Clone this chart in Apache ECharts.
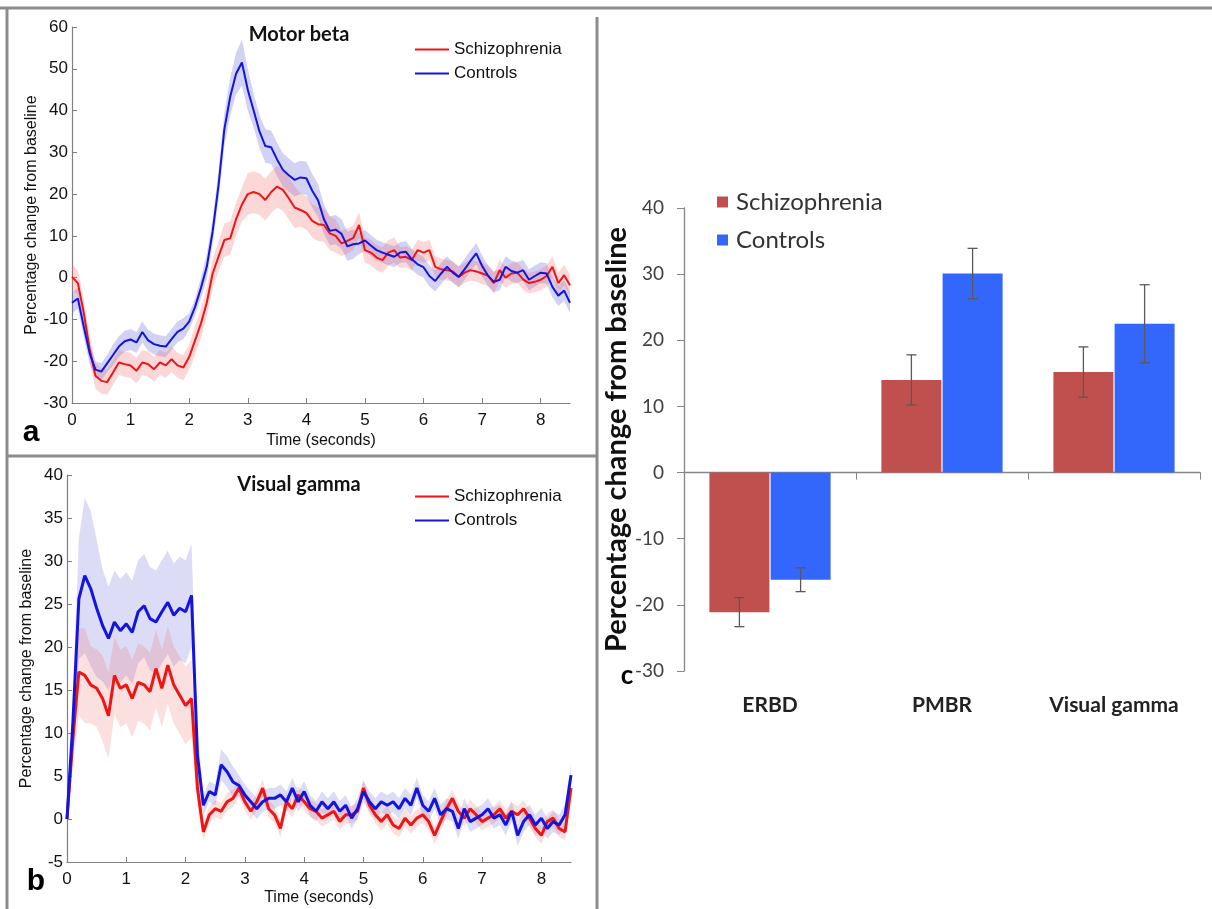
<!DOCTYPE html>
<html><head><meta charset="utf-8">
<script src="https://cdn.jsdelivr.net/npm/echarts@6/dist/echarts.min.js"></script>
<style>html,body{margin:0;padding:0;background:#fff}#c{width:1212px;height:909px}</style>
</head><body><div id="c"></div>
<script>
// ---- data ----
const timeStep = 0.1;            // sampling step (s) of the traces
const xTicks = [0, 1, 2, 3, 4, 5, 6, 7, 8];

// Panel a: Motor beta (% change), t = 0 .. 8.5 s
const motorCtrl = [
  -6, -5, -11.7, -18, -22, -22.5, -20.5, -18.5, -16.5, -15.2,
  -14.8, -15.5, -13, -15, -15.9, -16.3, -16.5, -14.7, -13, -12.2,
  -10.5, -7, -2.5, 2.6, 11, 22, 35.5, 43.3, 48.8, 51.5,
  45, 40, 35, 31.5, 31.2, 28.3, 25.8, 24.5, 23.4, 24,
  23.8, 20.8, 18.5, 14, 11.2, 11.5, 10.5, 7.5, 8, 8.2,
  8.9, 7.7, 6.6, 6, 5.5, 5, 6, 6.2, 4.4, 3.2,
  2.5, 0.4, -0.8, 1, 2.6, 1.2, 0.2, 2, 4, 5.8,
  2.8, 0.5, -1, -0.5, 2.6, 1.6, 1.2, 1.8, -0.5, 0.4,
  1.2, 1, -2.2, -4.3, -3.1, -6];
const motorSchiz = [
  0.2, -1.3, -8.3, -17, -23.5, -24.7, -25, -22.7, -20.3, -20.7,
  -21, -22.3, -20.3, -20.7, -21.9, -20.3, -21, -19.5, -21, -21.5,
  -19, -15, -11, -6, 1, 5, 9, 9.4, 14, 17.5,
  20, 20.5, 20, 18.6, 20.5, 21.8, 21, 19, 16.8, 16.2,
  15.5, 13.6, 12.8, 12.6, 10.6, 10, 8.2, 8.8, 9.5, 12.6,
  6.6, 6, 4.8, 4.2, 6, 6.6, 4.8, 5, 4.2, 6.6,
  6, 6.6, 2.6, 2, 1.8, 1.5, 0.2, 1.2, 1.8, 1.5,
  1, 0.5, -1.3, 1.8, 0, 1, 1.2, -0.4, -1.3, -1,
  -0.5, 0.4, 2.6, -1.3, 0.6, -1.8];
const motorCtrlSem = [
  2.5, 2.5, 2.5, 2.5, 2, 2, 2, 2.5, 2.5, 2.5,
  2.5, 2.5, 2.5, 2.5, 2.5, 2.5, 2.5, 2.5, 2.5, 2.5,
  2, 2, 2.5, 3, 3, 3.5, 4, 4.5, 5, 5.5,
  5, 4, 4, 4, 4, 4, 4, 4, 4, 4,
  4, 4, 4, 3.5, 3.5, 3.5, 3.5, 3.5, 3.5, 2.5,
  2.5, 2.5, 2.5, 2.5, 2.5, 2.5, 2.5, 2.5, 2.5, 2.5,
  2.5, 2.5, 2.5, 2.5, 2.5, 2.5, 2.5, 2.5, 2.5, 2.5,
  2.5, 2.5, 2.5, 2.5, 2.5, 2.5, 2.5, 2.5, 2.5, 2.5,
  2.5, 2.5, 2.5, 2.5, 2.5, 2.5];
const motorSchizSem = [
  3, 3, 3, 3, 3, 3, 3, 3, 3, 3,
  3, 3, 3, 3, 3, 3, 3, 3, 3, 3,
  3, 3.5, 3.5, 3.5, 3.5, 3.5, 4, 4, 4, 4,
  5, 5, 5, 5, 5, 5, 5, 5, 5, 4,
  4, 4, 4, 4, 4, 4, 3, 3, 3, 3,
  3, 3, 3, 3, 3, 3, 2.5, 2.5, 2.5, 2.5,
  2.5, 2.5, 2.5, 2.5, 2.5, 2.5, 2.5, 2.5, 2.5, 2.5,
  2.5, 2.5, 2.5, 2.5, 2.5, 2.5, 2.5, 2.5, 2.5, 2.5,
  2.5, 2.5, 2.5, 2.5, 2.5, 2.5];

// Panel b: Visual gamma (% change), t = 0 .. 8.5 s
const gammaCtrl = [
  0, 11.3, 25.6, 28.3, 26.8, 24.5, 22.5, 21, 22.9, 21.9,
  22.7, 21.7, 24.1, 24.8, 23.3, 22.9, 24.1, 25.2, 23.7, 24.5,
  24.1, 26, 7.4, 1.6, 3.2, 2.8, 6.3, 5.5, 4.3, 3.9,
  2.8, 2, 1.2, 2, 2.4, 2.4, 2.8, 2, 3.6, 2,
  3.2, 1.6, 0.9, 2, 1.2, 2, 0.9, 1.6, 0.1, 1.2,
  3.2, 2, 1.2, 2, 1.6, 2, 1.2, 2.4, 1.6, 3.6,
  1.6, 0.9, 2.4, 0.5, 1.2, 0.9, -1.1, 1.2, -0.3, 0.1,
  0.5, 1.2, 0.1, 0.5, -0.7, 0.9, -1.9, -0.3, 0.5, -0.7,
  0.1, -1.1, -0.3, -0.7, 0.5, 5.1];
const gammaSchiz = [
  0, 9.4, 17.1, 16.7, 15.6, 15.2, 14, 12, 16.7, 15.2,
  15.6, 14, 15.9, 15.6, 14.8, 17.5, 15.2, 17.9, 15.6, 14.4,
  13.2, 14, 3.6, -1.5, 0.5, 1.2, 0.9, 2, 2.4, 3.6,
  2, 0.9, 2, 3.6, 1.2, 0.5, -1.1, 2, 1.2, 2.8,
  2, 1.2, 0.9, 0.1, 0.5, 0.9, -0.3, 0.5, 0.5, 0.9,
  3.6, 1.6, 0.5, -0.3, 0.5, -0.7, -1.1, 0.1, -0.7, 0.1,
  0.5, -0.3, -1.9, -0.3, 1.2, 2.4, 0.9, 0.1, 1.2, 0.5,
  -0.3, 0.1, 0.5, 1.2, 0.1, 0.9, 0.5, 1.2, 0.1, -1.1,
  -1.9, -0.3, 0.1, -1.1, -1.5, 3.6];
const gammaCtrlSem = [
  1, 3, 7, 9, 9, 8, 6.5, 6, 6, 6,
  6, 6, 6, 6, 6, 6, 6, 6, 6, 6,
  6, 6, 3, 1.2, 1.2, 1.2, 1.8, 1.8, 1.8, 1.2,
  1.2, 1.2, 1.2, 1.2, 1.2, 1.2, 1.2, 1.2, 1.2, 1.2,
  1.2, 1.2, 1.2, 1.2, 1.2, 1.2, 1.2, 1.2, 1.2, 1.2,
  1.2, 1.2, 1.2, 1.2, 1.2, 1.2, 1.2, 1.2, 1.2, 1.2,
  1.2, 1.2, 1.2, 1.2, 1.2, 1.2, 1.2, 1.2, 1.2, 1.2,
  1.2, 1.2, 1.2, 1.2, 1.2, 1.2, 1.2, 1.2, 1.2, 1.2,
  1.2, 1.2, 1.2, 1.2, 1.2, 1.2];
const gammaSchizSem = [
  1, 3, 5, 5.5, 4.5, 4.5, 5, 5, 4.5, 4.5,
  4.5, 4.5, 4.5, 4.5, 4.5, 4.5, 4.5, 4.5, 4.5, 4.5,
  4.5, 4.5, 2, 1, 1, 1, 1, 1, 1, 1,
  1, 1, 1, 1, 1, 1, 1, 1, 1, 1,
  1, 1, 1, 1, 1, 1, 1, 1, 1, 1,
  1, 1, 1, 1, 1, 1, 1, 1, 1, 1,
  1, 1, 1, 1, 1, 1, 1, 1, 1, 1,
  1, 1, 1, 1, 1, 1, 1, 1, 1, 1,
  1, 1, 1, 1, 1, 1];

// Panel c: bar chart
const barCategories = ['ERBD', 'PMBR', 'Visual gamma'];
const barSchiz = [-21.1, 14.0, 15.2];
const barSchizErr = [2.2, 3.8, 3.8];
const barCtrl = [-16.2, 30.1, 22.5];
const barCtrlErr = [1.8, 3.8, 5.9];

// ---- styling ----
const RED = '#f01414', BLUE = '#1414e0';
const BAR_RED = '#c0504d', BAR_BLUE = '#3366fb';
const AX = '#808080';
const SANS = 'Liberation Sans, Arial, sans-serif';
const CAL = 'Lato, Open Sans, sans-serif';
const times = motorCtrl.map((_, i) => +(i * timeStep).toFixed(2));

function band(name, xi, yi, mean, sem, color) {
  return {
    type: 'custom', name: name, xAxisIndex: xi, yAxisIndex: yi, silent: true, z: 1, clip: true,
    data: [[0, 0]], encode: { x: 0, y: 1 },
    renderItem: function (params, api) {
      const pts = [];
      for (let i = 0; i < mean.length; i++) pts.push(api.coord([times[i], mean[i] + sem[i]]));
      for (let i = mean.length - 1; i >= 0; i--) pts.push(api.coord([times[i], mean[i] - sem[i]]));
      return { type: 'polygon', shape: { points: pts }, style: { fill: color } };
    }
  };
}
function trace(name, xi, yi, vals, color, w) {
  return {
    type: 'line', name: name, xAxisIndex: xi, yAxisIndex: yi, z: 3,
    data: vals.map((v, i) => [times[i], v]), showSymbol: false, symbol: 'none',
    lineStyle: { color: color, width: w }, itemStyle: { color: color }
  };
}
function errBars(name, mean, err, offset) {
  return {
    type: 'custom', name: name, xAxisIndex: 2, yAxisIndex: 2, z: 5, silent: true,
    data: mean.map((m, i) => [i, m, err[i]]), encode: { x: 0, y: 1 },
    renderItem: function (params, api) {
      const i = api.value(0), m = api.value(1), e = api.value(2);
      const top = api.coord([i, m + e]), bot = api.coord([i, m - e]);
      const x = top[0] + offset;
      const st = { stroke: '#595959', lineWidth: 1.3 };
      return { type: 'group', children: [
        { type: 'line', shape: { x1: x, y1: top[1], x2: x, y2: bot[1] }, style: st },
        { type: 'line', shape: { x1: x - 5, y1: top[1], x2: x + 5, y2: top[1] }, style: st },
        { type: 'line', shape: { x1: x - 5, y1: bot[1], x2: x + 5, y2: bot[1] }, style: st }
      ] };
    }
  };
}
function timeAxis(gi, gap) {
  return {
    gridIndex: gi, type: 'value', min: 0, max: 8.5,
    axisLine: { show: true, onZero: false, lineStyle: { color: AX, width: 1.2 } },
    axisTick: { show: true, inside: true, length: 5, customValues: xTicks, lineStyle: { color: AX } },
    axisLabel: { customValues: xTicks, margin: 9, fontFamily: SANS, fontSize: 17, color: '#111' },
    splitLine: { show: false },
    name: 'Time (seconds)', nameLocation: 'middle', nameGap: gap,
    nameTextStyle: { fontFamily: SANS, fontSize: 16, color: '#111' }
  };
}
function pctAxis(gi, min, max, step) {
  return {
    gridIndex: gi, type: 'value', min: min, max: max, interval: step,
    axisLine: { show: true, onZero: false, lineStyle: { color: AX, width: 1.2 } },
    axisTick: { show: true, inside: true, length: 5, lineStyle: { color: AX } },
    axisLabel: { margin: 4, fontFamily: SANS, fontSize: 17, color: '#111' },
    splitLine: { show: false },
    name: 'Percentage change from baseline', nameLocation: 'middle', nameGap: 32,
    nameTextStyle: { fontFamily: SANS, fontSize: 16, color: '#111' }
  };
}
function lineLegend(top) {
  return {
    left: 415, top: top, orient: 'vertical', icon: 'rect', itemWidth: 34, itemHeight: 2,
    itemGap: 7, padding: 0, selectedMode: false,
    textStyle: { fontFamily: SANS, fontSize: 17, color: '#111', lineHeight: 17 },
    data: [
      { name: 'Schizophrenia', itemStyle: { color: RED } },
      { name: 'Controls', itemStyle: { color: BLUE } }
    ]
  };
}
const frame = { stroke: '#8c8c8c', lineWidth: 3 };

const chart = echarts.init(document.getElementById('c'), null, { renderer: 'canvas' });
chart.setOption({
  animation: false,
  backgroundColor: '#fff',
  grid: [
    { left: 72, top: 27, width: 498, height: 376 },
    { left: 67, top: 475, width: 504, height: 387 },
    { left: 684, top: 208, width: 516, height: 463 }
  ],
  xAxis: [
    timeAxis(0, 30),
    timeAxis(1, 28),
    {
      gridIndex: 2, type: 'category', data: barCategories, position: 'bottom',
      axisLine: { show: false, onZero: false }, axisTick: { show: false },
      axisLabel: { interval: 0, hideOverlap: false, margin: 24, fontFamily: CAL, fontWeight: 'bold', fontSize: 21, color: '#222' }
    },
    {
      gridIndex: 2, type: 'category', data: barCategories, position: 'bottom',
      axisLine: { show: true, onZero: true, lineStyle: { color: '#868686', width: 1.3 } },
      axisTick: { show: true, length: 7, lineStyle: { color: '#868686' } },
      axisLabel: { show: false }
    }
  ],
  yAxis: [
    pctAxis(0, -30, 60, 10),
    pctAxis(1, -5, 40, 5),
    {
      gridIndex: 2, type: 'value', min: -30, max: 40, interval: 10,
      axisLine: { show: true, lineStyle: { color: '#868686', width: 1.3 } },
      axisTick: { show: true, length: 7, lineStyle: { color: '#868686' } },
      axisLabel: { margin: 20, fontFamily: CAL, fontSize: 19, color: '#404040' },
      splitLine: { show: false },
      name: 'Percentage change from baseline', nameLocation: 'middle', nameGap: 48,
      nameTextStyle: { fontFamily: CAL, fontWeight: 'bold', fontSize: 29, color: '#111' }
    }
  ],
  legend: [
    lineLegend(41),
    lineLegend(488),
    {
      left: 717, top: 190, orient: 'vertical', icon: 'rect', itemWidth: 11, itemHeight: 11,
      itemGap: 14, padding: 0, selectedMode: false,
      textStyle: { fontFamily: CAL, fontSize: 24, color: '#333', lineHeight: 24, padding: [0, 0, 0, 3] },
      data: [
        { name: 'Schizophrenia', itemStyle: { color: BAR_RED } },
        { name: 'Controls', itemStyle: { color: BAR_BLUE } }
      ]
    }
  ],
  series: [
    band('Controls band a', 0, 0, motorCtrl, motorCtrlSem, 'rgba(95,95,215,0.28)'),
    band('Schizophrenia band a', 0, 0, motorSchiz, motorSchizSem, 'rgba(240,95,95,0.25)'),
    trace('Schizophrenia', 0, 0, motorSchiz, RED, 2),
    trace('Controls', 0, 0, motorCtrl, BLUE, 2),
    band('Controls band b', 1, 1, gammaCtrl, gammaCtrlSem, 'rgba(95,95,215,0.22)'),
    band('Schizophrenia band b', 1, 1, gammaSchiz, gammaSchizSem, 'rgba(240,95,95,0.2)'),
    trace('Schizophrenia', 1, 1, gammaSchiz, RED, 3),
    trace('Controls', 1, 1, gammaCtrl, BLUE, 3),
    {
      type: 'bar', name: 'Schizophrenia', xAxisIndex: 2, yAxisIndex: 2, data: barSchiz,
      barWidth: 60, barGap: '2%', itemStyle: { color: BAR_RED }
    },
    {
      type: 'bar', name: 'Controls', xAxisIndex: 2, yAxisIndex: 2, data: barCtrl,
      barWidth: 60, barGap: '2%', itemStyle: { color: BAR_BLUE }
    },
    errBars('Schizophrenia error', barSchiz, barSchizErr, -30.6),
    errBars('Controls error', barCtrl, barCtrlErr, 30.6)
  ],
  graphic: [
    { type: 'line', shape: { x1: 0, y1: 8, x2: 1212, y2: 8 }, style: frame },
    { type: 'line', shape: { x1: 7, y1: 8, x2: 7, y2: 909 }, style: frame },
    { type: 'line', shape: { x1: 597, y1: 17, x2: 597, y2: 909 }, style: frame },
    { type: 'line', shape: { x1: 7, y1: 456, x2: 597, y2: 456 }, style: frame },
    { type: 'text', x: 299, y: 35, style: { text: 'Motor beta', fontFamily: CAL, fontWeight: 'bold', fontSize: 20, fill: '#111', textAlign: 'center', textVerticalAlign: 'middle' } },
    { type: 'text', x: 299, y: 485, style: { text: 'Visual gamma', fontFamily: CAL, fontWeight: 'bold', fontSize: 20, fill: '#111', textAlign: 'center', textVerticalAlign: 'middle' } },
    { type: 'text', x: 31, y: 433, style: { text: 'a', fontFamily: SANS, fontWeight: 'bold', fontSize: 30, fill: '#000', textAlign: 'center', textVerticalAlign: 'middle' } },
    { type: 'text', x: 36, y: 882, style: { text: 'b', fontFamily: SANS, fontWeight: 'bold', fontSize: 30, fill: '#000', textAlign: 'center', textVerticalAlign: 'middle' } },
    { type: 'text', x: 627, y: 676, style: { text: 'c', fontFamily: CAL, fontWeight: 'bold', fontSize: 26, fill: '#000', textAlign: 'center', textVerticalAlign: 'middle' } }
  ]
});
</script>
</body></html>
